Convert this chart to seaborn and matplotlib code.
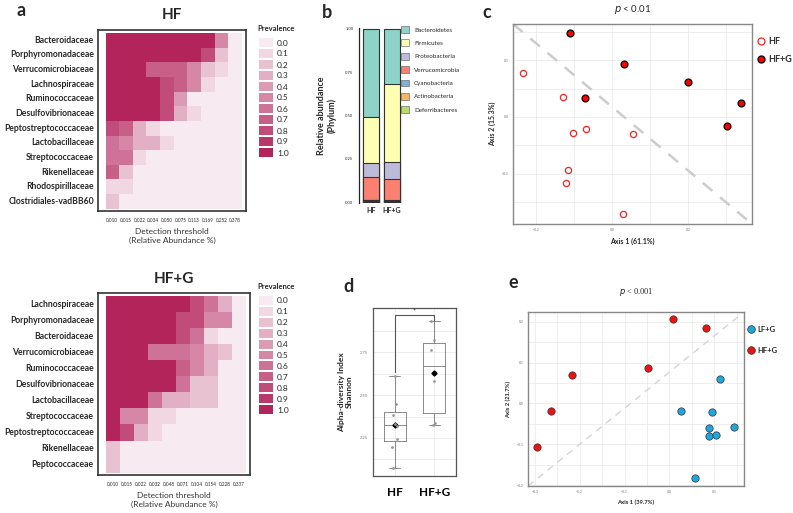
import numpy as np
import pandas as pd
import seaborn as sns
import matplotlib.pyplot as plt
from matplotlib.colors import ListedColormap, LinearSegmentedColormap
from matplotlib.patches import Patch
from matplotlib.lines import Line2D

# panel a - core microbiome heatmaps
hf_families = ["Bacteroidaceae", "Porphyromonadaceae", "Verrucomicrobiaceae", "Lachnospiraceae",
               "Ruminococcaceae", "Desulfovibrionaceae", "Peptostreptococcaceae", "Lactobacillaceae",
               "Streptococcaceae", "Rikenellaceae", "Rhodospirillaceae", "Clostridiales-vadBB60"]
hf_thresholds = ["0.010", "0.015", "0.022", "0.034", "0.050", "0.075", "0.113", "0.169", "0.252", "0.378"]
hf_prevalence = [
    [1.0, 1.0, 1.0, 1.0, 1.0, 1.0, 1.0, 1.0, 0.5, 0.0],
    [1.0, 1.0, 1.0, 1.0, 1.0, 1.0, 1.0, 0.8, 0.2, 0.0],
    [1.0, 1.0, 1.0, 0.7, 0.7, 0.7, 0.5, 0.2, 0.1, 0.0],
    [1.0, 1.0, 1.0, 1.0, 0.8, 0.7, 0.5, 0.1, 0.0, 0.0],
    [1.0, 1.0, 1.0, 1.0, 0.8, 0.4, 0.0, 0.0, 0.0, 0.0],
    [1.0, 1.0, 1.0, 1.0, 0.8, 0.3, 0.1, 0.0, 0.0, 0.0],
    [0.8, 0.7, 0.3, 0.1, 0.0, 0.0, 0.0, 0.0, 0.0, 0.0],
    [0.6, 0.5, 0.3, 0.3, 0.1, 0.0, 0.0, 0.0, 0.0, 0.0],
    [0.6, 0.6, 0.1, 0.0, 0.0, 0.0, 0.0, 0.0, 0.0, 0.0],
    [0.7, 0.2, 0.0, 0.0, 0.0, 0.0, 0.0, 0.0, 0.0, 0.0],
    [0.1, 0.1, 0.0, 0.0, 0.0, 0.0, 0.0, 0.0, 0.0, 0.0],
    [0.2, 0.0, 0.0, 0.0, 0.0, 0.0, 0.0, 0.0, 0.0, 0.0],
]
hfg_families = ["Lachnospiraceae", "Porphyromonadaceae", "Bacteroidaceae", "Verrucomicrobiaceae",
                "Ruminococcaceae", "Desulfovibrionaceae", "Lactobacillaceae", "Streptococcaceae",
                "Peptostreptococcaceae", "Rikenellaceae", "Peptococcaceae"]
hfg_thresholds = ["0.010", "0.015", "0.022", "0.032", "0.048", "0.071", "0.104", "0.154", "0.228", "0.337"]
hfg_prevalence = [
    [1.0, 1.0, 1.0, 1.0, 1.0, 1.0, 0.8, 0.6, 0.3, 0.0],
    [1.0, 1.0, 1.0, 1.0, 1.0, 0.8, 0.8, 0.5, 0.5, 0.0],
    [1.0, 1.0, 1.0, 1.0, 1.0, 0.8, 0.6, 0.1, 0.0, 0.0],
    [1.0, 1.0, 1.0, 0.6, 0.6, 0.6, 0.5, 0.3, 0.2, 0.0],
    [1.0, 1.0, 1.0, 1.0, 1.0, 0.7, 0.5, 0.3, 0.0, 0.0],
    [1.0, 1.0, 1.0, 1.0, 1.0, 0.6, 0.2, 0.2, 0.0, 0.0],
    [1.0, 1.0, 1.0, 0.6, 0.3, 0.3, 0.2, 0.2, 0.0, 0.0],
    [1.0, 0.5, 0.5, 0.1, 0.1, 0.0, 0.0, 0.0, 0.0, 0.0],
    [1.0, 0.8, 0.3, 0.1, 0.0, 0.0, 0.0, 0.0, 0.0, 0.0],
    [0.2, 0.0, 0.0, 0.0, 0.0, 0.0, 0.0, 0.0, 0.0, 0.0],
    [0.2, 0.0, 0.0, 0.0, 0.0, 0.0, 0.0, 0.0, 0.0, 0.0],
]
prev_levels = [0.0, 0.1, 0.2, 0.3, 0.4, 0.5, 0.6, 0.7, 0.8, 0.9, 1.0]

# panel b - phylum composition
groups = ["HF", "HF+G"]
phyla = ["Bacteroidetes", "Firmicutes", "Proteobacteria", "Verrucomicrobia",
         "Cyanobacteria", "Actinobacteria", "Deferribacteres"]
phylum_hf = [0.507, 0.265, 0.083, 0.133, 0.001, 0.002, 0.009]
phylum_hfg = [0.319, 0.449, 0.097, 0.124, 0.001, 0.001, 0.009]
phylum_colors = ["#8dd3c7", "#ffffb3", "#bebada", "#fb8072", "#80b1d3", "#fdb462", "#b3de69"]

# panel c - PCoA HF vs HF+G
c_hf_x = [-0.234, -0.128, -0.068, -0.103, 0.055, -0.115, -0.120, 0.030]
c_hf_y = [0.077, 0.035, -0.021, -0.029, -0.030, -0.093, -0.116, -0.172]
c_hfg_x = [-0.111, 0.031, -0.072, 0.199, 0.339, 0.303]
c_hfg_y = [0.148, 0.093, 0.034, 0.061, 0.025, -0.016]

# panel d - Shannon index
shannon_hf = [2.613, 2.449, 2.385, 2.334, 2.320, 2.244, 2.199, 2.072]
shannon_hfg = [2.935, 2.820, 2.766, 2.580, 2.336, 2.326]

# panel e - PCoA LF+G vs HF+G
e_lfg_x = [0.112, 0.025, 0.095, 0.088, 0.087, 0.103, 0.144, 0.056]
e_lfg_y = [0.060, -0.018, -0.021, -0.061, -0.079, -0.076, -0.057, -0.182]
e_hfg_x = [0.009, 0.082, -0.048, -0.217, -0.263, -0.296]
e_hfg_y = [0.206, 0.186, 0.088, 0.069, -0.019, -0.106]

sns.set_style("white")
plt.rcParams["font.family"] = ["Lato", "DejaVu Sans"]

W, H = 793, 513
fig = plt.figure(figsize=(W / 100, H / 100), dpi=100)


def add_ax(x0, y0, x1, y1):
    return fig.add_axes([x0 / W, 1 - y1 / H, (x1 - x0) / W, (y1 - y0) / H])


cmap_full = LinearSegmentedColormap.from_list("prev", ["#f7eaf0", "#b3245b"])
prev_cmap = ListedColormap([cmap_full(v) for v in prev_levels])


def core_heatmap(box, legbox, title, data, rows, cols, title_y):
    ax = add_ax(*box)
    df = pd.DataFrame(data, index=rows, columns=cols)
    sns.heatmap(df, ax=ax, cmap=prev_cmap, vmin=-0.05, vmax=1.05, cbar=False,
                xticklabels=True, yticklabels=True)
    ax.set_xlim(-0.55, len(cols) + 0.3)
    ax.set_ylim(len(rows) + 0.15, -0.2)
    for s in ax.spines.values():
        s.set_visible(True)
        s.set_color("#333333")
        s.set_linewidth(1.2)
    ax.tick_params(axis="y", length=2, color="#e06080", labelsize=6.2, pad=1)
    ax.tick_params(axis="x", length=0, labelsize=3.3, pad=5)
    for t in ax.get_yticklabels():
        t.set_fontweight("bold")
        t.set_rotation(0)
    for t in ax.get_xticklabels():
        t.set_rotation(0)
    ax.set_xlabel("Detection threshold\n(Relative Abundance %)", fontsize=6, color="#333333", labelpad=4)
    ax.set_ylabel("")
    fig.text((box[0] + box[2]) / 2 / W, 1 - title_y / H, title, ha="center", va="center",
             fontsize=11, fontweight="bold")
    # discrete legend
    lax = add_ax(*legbox)
    sns.heatmap(np.array(prev_levels).reshape(-1, 1), ax=lax, cmap=prev_cmap, vmin=-0.05, vmax=1.05,
                cbar=False, linewidths=1.2, linecolor="white")
    lax.yaxis.tick_right()
    lax.set_yticks(np.arange(len(prev_levels)) + 0.5)
    lax.set_yticklabels([f"{v:.1f}" for v in prev_levels], rotation=0, fontsize=6)
    lax.tick_params(length=0, pad=2)
    lax.set_xticks([])
    lax.set_title("Prevalence", fontsize=5.5, fontweight="bold", loc="left", pad=4, x=-0.05)


core_heatmap((98, 30, 246, 211), (258, 37, 274, 158), "HF", hf_prevalence, hf_families, hf_thresholds, 15)
core_heatmap((98, 293, 250, 475), (258, 295, 274, 415), "HF+G", hfg_prevalence, hfg_families,
             hfg_thresholds, 279)

# panel b - stacked bars drawn as layered cumulative sums
axb = add_ax(359, 28, 403, 203)
comp = pd.DataFrame({"HF": phylum_hf, "HF+G": phylum_hfg}, index=phyla)
comp = comp.div(comp.sum())
cum = comp[::-1].cumsum()[::-1]
for ph, col in zip(phyla, phylum_colors):
    d = pd.DataFrame({"group": groups, "value": cum.loc[ph, groups].values})
    sns.barplot(data=d, x="group", y="value", ax=axb, color=col, width=0.8,
                edgecolor="#333333", linewidth=0.8, saturation=1)
axb.set_xlim(-0.6, 1.55)
axb.set_ylim(-0.004, 1.004)
axb.set_yticks([0, 0.25, 0.5, 0.75, 1.0])
axb.set_yticklabels(["0.00", "0.25", "0.50", "0.75", "1.00"])
axb.tick_params(axis="y", labelsize=3, length=2, width=0.8, pad=2)
axb.tick_params(axis="x", labelsize=5, length=0, pad=3)
for t in axb.get_xticklabels():
    t.set_fontweight("bold")
sns.despine(ax=axb, bottom=True)
axb.spines["left"].set_linewidth(0.9)
axb.set_xlabel("")
axb.set_ylabel("Relative abundance\n(Phylum)", fontsize=6.5, fontweight="bold", labelpad=6)
handles = [Patch(facecolor=c, edgecolor="#555555", linewidth=0.4) for c in phylum_colors]
fig.legend(handles, phyla, loc="upper left", bbox_to_anchor=(401 / W, 1 - 26 / H), frameon=False,
           fontsize=4.5, handlelength=1.3, handleheight=1.3, labelspacing=1.05, handletextpad=0.8,
           borderaxespad=0, borderpad=0)

# panel c - PCoA HF vs HF+G
axc = add_ax(513, 24, 752, 224)
sns.scatterplot(x=c_hf_x, y=c_hf_y, ax=axc, s=20, facecolor="white", edgecolor="#ff2020", linewidth=0.9)
sns.scatterplot(x=c_hfg_x, y=c_hfg_y, ax=axc, s=24, color="#ff0000", edgecolor="#111111", linewidth=1.0)
axc.set_xlim(-0.261, 0.369)
axc.set_ylim(-0.189, 0.164)
axc.set_xticks([-0.2, 0.0, 0.2])
axc.set_xticks([-0.1, 0.1, 0.3], minor=True)
axc.set_yticks([-0.1, 0.0, 0.1])
axc.set_yticks([-0.15, -0.05, 0.05, 0.15], minor=True)
axc.grid(True, which="both", color="#ebebeb", linewidth=0.6)
axc.set_axisbelow(True)
axc.tick_params(labelsize=2.5, length=1, colors="#777777", pad=2)
for s in axc.spines.values():
    s.set_color("#888888")
    s.set_linewidth(1.0)
axc.plot([0, 1], [1, 0], transform=axc.transAxes, ls=(0, (5, 4)), color="#cccccc", lw=1.8, zorder=1)
axc.set_xlabel("Axis 1 (61.1%)", fontsize=5, fontweight="bold", labelpad=4)
axc.set_ylabel("Axis 2 (15.3%)", fontsize=5, fontweight="bold", labelpad=4)
axc.set_title(r"$p$ < 0.01", fontsize=7, pad=9)
leg_c = [Line2D([], [], ls="", marker="o", ms=5, mfc="white", mec="#ff2020", mew=0.9),
         Line2D([], [], ls="", marker="o", ms=5, mfc="#ff0000", mec="#111111", mew=1.0)]
fig.legend(leg_c, ["HF", "HF+G"], loc="upper left", bbox_to_anchor=(757 / W, 1 - 37 / H), frameon=False,
           prop={"size": 6.5, "weight": "bold"}, handlelength=0.8, handletextpad=0.5, labelspacing=1.0,
           borderaxespad=0, borderpad=0)

# panel d - Shannon boxplot
axd = add_ax(373, 308, 456, 476)
shannon = pd.DataFrame({"group": ["HF"] * len(shannon_hf) + ["HF+G"] * len(shannon_hfg),
                        "shannon": shannon_hf + shannon_hfg})
sns.boxplot(data=shannon, x="group", y="shannon", ax=axd, width=0.55, fill=False, color="#777777",
            linewidth=0.6, showfliers=False, showmeans=True,
            meanprops={"marker": "D", "markerfacecolor": "black", "markeredgecolor": "black", "markersize": 2.6})
np.random.seed(3)
sns.stripplot(data=shannon, x="group", y="shannon", ax=axd, color="#999999", size=2, jitter=0.08)
axd.set_ylim(2.027, 3.01)
axd.set_xlim(-0.55, 1.55)
axd.set_yticks([2.25, 2.5, 2.75])
axd.set_yticks([2.125, 2.375, 2.625, 2.875], minor=True)
axd.grid(True, which="both", color="#ebebeb", linewidth=0.6)
axd.set_axisbelow(True)
axd.tick_params(axis="y", labelsize=3, length=1.5, colors="#777777", pad=2)
axd.tick_params(axis="x", labelsize=8.5, length=2, pad=6)
for t in axd.get_xticklabels():
    t.set_fontweight("bold")
    t.set_color("black")
for s in axd.spines.values():
    s.set_color("#555555")
    s.set_linewidth(0.9)
y_lo = max(shannon_hf) + 0.02
y_top = max(shannon_hfg) + 0.032
axd.plot([0, 0, 1, 1], [y_lo, y_top, y_top, max(shannon_hfg)], color="#555555", lw=0.8)
axd.text(0.5, y_top + 0.005, "*", ha="center", va="bottom", fontsize=5)
axd.set_xlabel("")
axd.set_ylabel("Alpha-diversity Index\nShannon", fontsize=6, fontweight="bold", labelpad=5)

# panel e - PCoA LF+G vs HF+G
axe = add_ax(528, 312, 744, 486)
sns.scatterplot(x=e_lfg_x, y=e_lfg_y, ax=axe, s=28, color="#1ea6e0", edgecolor="#333333", linewidth=0.5)
sns.scatterplot(x=e_hfg_x, y=e_hfg_y, ax=axe, s=28, color="#ee1111", edgecolor="#333333", linewidth=0.5)
axe.set_xlim(-0.315, 0.166)
axe.set_ylim(-0.202, 0.224)
axe.set_xticks([-0.3, -0.2, -0.1, 0.0, 0.1])
axe.set_xticks([-0.25, -0.15, -0.05, 0.05, 0.15], minor=True)
axe.set_yticks([-0.2, -0.1, 0.0, 0.1, 0.2])
axe.set_yticks([-0.15, -0.05, 0.05, 0.15], minor=True)
axe.grid(True, which="both", color="#ebebeb", linewidth=0.6)
axe.set_axisbelow(True)
axe.tick_params(labelsize=2.5, length=1, colors="#777777", pad=2)
for s in axe.spines.values():
    s.set_color("#888888")
    s.set_linewidth(1.0)
axe.plot([0, 1], [0, 1], transform=axe.transAxes, ls=(0, (5, 4)), color="#d5d5d5", lw=1.0, zorder=1)
axe.set_xlabel("Axis 1 (39.7%)", fontsize=4.2, fontweight="bold", labelpad=4)
axe.set_ylabel("Axis 2 (21.7%)", fontsize=4.2, fontweight="bold", labelpad=4)
axe.set_title(r"$\mathit{p}$ < 0.001", fontsize=6, pad=13, fontfamily="Liberation Serif")
leg_e = [Line2D([], [], ls="", marker="o", ms=5.5, mfc="#1ea6e0", mec="#333333", mew=0.5),
         Line2D([], [], ls="", marker="o", ms=5.5, mfc="#ee1111", mec="#333333", mew=0.5)]
fig.legend(leg_e, ["LF+G", "HF+G"], loc="upper left", bbox_to_anchor=(748 / W, 1 - 326 / H), frameon=False,
           prop={"size": 5.5, "weight": "bold"}, handlelength=0.8, handletextpad=0.4, labelspacing=1.8,
           borderaxespad=0, borderpad=0)

# panel letters
for letter, x, y in [("a", 21, 10), ("b", 327, 12), ("c", 487, 12), ("d", 348, 287), ("e", 513, 283)]:
    fig.text(x / W, 1 - y / H, letter, fontsize=13, fontweight="bold", ha="center", va="center")

fig.savefig("out.png", dpi=100)
